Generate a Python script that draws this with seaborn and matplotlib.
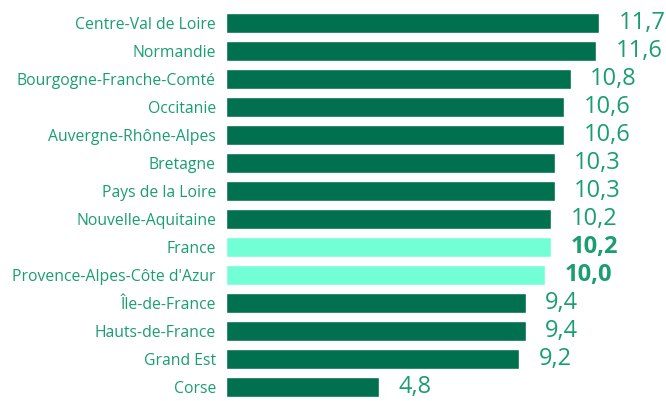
import matplotlib
matplotlib.use("Agg")
import matplotlib.pyplot as plt
import seaborn as sns
import pandas as pd

regions = ["Centre-Val de Loire", "Normandie", "Bourgogne-Franche-Comté", "Occitanie",
           "Auvergne-Rhône-Alpes", "Bretagne", "Pays de la Loire", "Nouvelle-Aquitaine",
           "France", "Provence-Alpes-Côte d'Azur", "Île-de-France", "Hauts-de-France",
           "Grand Est", "Corse"]
values = [11.7, 11.6, 10.8, 10.6, 10.6, 10.3, 10.3, 10.2, 10.2, 10.0, 9.4, 9.4, 9.2, 4.8]
highlight = ["France", "Provence-Alpes-Côte d'Azur"]

DARK = "#00704F"
LIGHT = "#72FFD6"
TEXT = "#1a9e70"

sns.set_theme(style="white")
plt.rcParams["font.family"] = ["Open Sans", "DejaVu Sans"]

df = pd.DataFrame({"region": regions, "value": values})
palette = {r: (LIGHT if r in highlight else DARK) for r in regions}

fig = plt.figure(figsize=(6.66, 4.01), dpi=100)
ax = fig.add_axes([226 / 666, 0, 440 / 666, 392 / 401])

sns.barplot(data=df, x="value", y="region", hue="region", palette=palette,
            legend=False, width=0.7, saturation=1, ax=ax, orient="h")

ax.set_xlim(0, 440 / 31.9)
ax.set_ylim(len(regions) - 0.5, -0.5)
ax.set_xlabel("")
ax.set_ylabel("")
ax.set_xticks([])
for s in ax.spines.values():
    s.set_visible(False)
ax.tick_params(axis="y", length=0, pad=7.2, labelsize=11.3, labelcolor=TEXT)

for i, (r, v) in enumerate(zip(regions, values)):
    ax.annotate(f"{v:.1f}".replace(".", ","), xy=(v, i), xytext=(14, 0),
                textcoords="offset points", va="center", ha="left",
                fontsize=17, color=TEXT,
                fontweight="bold" if r in highlight else "normal")

fig.savefig("out.png", dpi=100)
